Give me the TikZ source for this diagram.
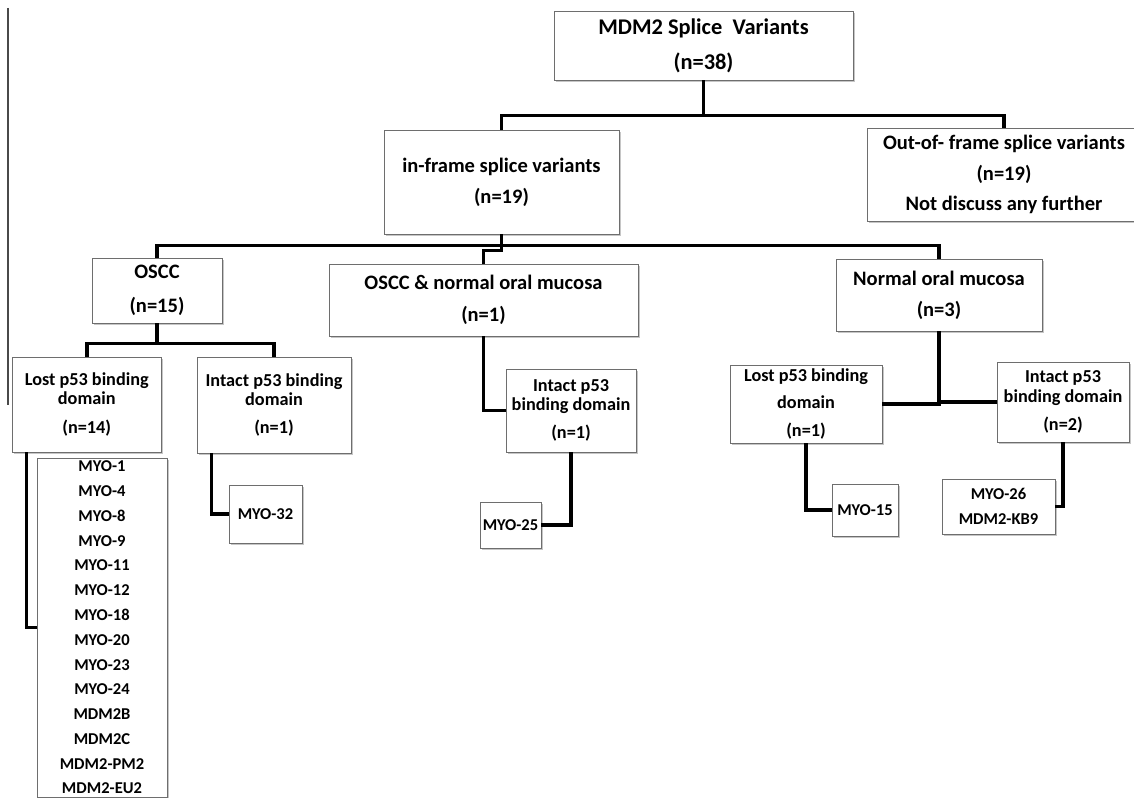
\documentclass[tikz,border=0pt]{standalone}
\usepackage{fontspec}
\setmainfont{Carlito}
\usepackage{tikz}
\usetikzlibrary{shadows}
\definecolor{boxline}{HTML}{6E6E6E}
\definecolor{edgeline}{HTML}{4A4A4A}

\begin{document}
\begin{tikzpicture}[x=1bp, y=-1bp,
    box/.style={draw=boxline, line width=0.9bp, fill=white, inner sep=0pt,
      align=center, font=\fontsize{20.6}{31}\selectfont\bfseries,
      drop shadow={shadow xshift=1.6bp, shadow yshift=-1.8bp,
        fill=black!50, opacity=.45}},
    rootbox/.style={box, font=\fontsize{22.5}{35}\selectfont\bfseries},
    pbox/.style={box, font=\fontsize{18.3}{29}\selectfont\bfseries},
    leaf/.style={box, font=\fontsize{16.6}{24.85}\selectfont\bfseries},
    link/.style={line width=3.6bp}]
  \useasboundingbox (0,0) rectangle (1134,798);
  \draw[edgeline, line width=1.3bp] (8,8) -- (8,405);
  % top level
  \node[rootbox, minimum width=299bp, minimum height=69bp] (root) at (703.5,45.5)
    {MDM2 Splice\ \ Variants\\(n=38)};
  \node[box, minimum width=235bp, minimum height=104bp] (inframe) at (501.5,182)
    {in-frame splice variants\\(n=19)};
  \node[box, minimum width=274bp, minimum height=93bp] (outframe) at (1004,174.5)
    {Out-of- frame splice variants\\(n=19)\\Not discuss any further};
  \draw[link] (root.south) -- ++(0,35) -| (inframe.north);
  \draw[link] (root.south) -- ++(0,35) -| (outframe.north);
  % tissue groups
  \node[box, minimum width=130bp, minimum height=65bp] (oscc) at (157,290.5)
    {OSCC\\[3bp](n=15)};
  \node[box, minimum width=309bp, minimum height=72bp] (both) at (483.5,300)
    {OSCC \& normal oral mucosa\\[1bp](n=1)};
  \node[box, minimum width=206bp, minimum height=72bp] (normal) at (939,295)
    {Normal oral mucosa\\(n=3)};
  \draw[link] (inframe.south) -- ++(0,11) -| (oscc.north);
  \draw[link] (inframe.south) -- ++(0,11) -| (normal.north);
  \draw[link] (inframe.south) -- ++(0,16) -| (both.north);
  % p53 binding domain
  \node[pbox, minimum width=148.5bp, minimum height=95bp] (lostA) at (86.75,404.5)
    {Lost p53 binding\\[-10bp]domain\\(n=14)};
  \node[pbox, minimum width=154bp, minimum height=96bp] (intactA) at (274,405)
    {Intact p53 binding\\[-10bp]domain\\(n=1)};
  \node[pbox, minimum width=130bp, minimum height=83bp] (intactB) at (571,410.5)
    {Intact p53\\[-10bp]binding domain\\(n=1)};
  \node[pbox, minimum width=152bp, minimum height=78bp] (lostC) at (806,404)
    {Lost p53 binding\\[-2bp]domain\\(n=1)};
  \node[pbox, minimum width=132bp, minimum height=80bp] (intactC) at (1063,402)
    {Intact p53\\[-9bp]binding domain\\(n=2)};
  \draw[link] (oscc.south) -- ++(0,20) -| (lostA.north);
  \draw[link] (oscc.south) -- ++(0,20) -| (intactA.north);
  \draw[link] (both.south) |- (intactB.west);
  \draw[link] (normal.south) |- (lostC.east);
  \draw[link] (normal.south) |- (intactC.west);
  % variants
  \node[leaf, minimum width=130bp, minimum height=339bp] (listA) at (102,627.5)
    {MYO-1\\MYO-4\\MYO-8\\MYO-9\\MYO-11\\MYO-12\\MYO-18\\MYO-20\\MYO-23\\MYO-24\\
     MDM2B\\MDM2C\\MDM2-PM2\\MDM2-EU2};
  \node[leaf, minimum width=73bp, minimum height=58bp] (myo32) at (265.5,514) {MYO-32};
  \node[leaf, minimum width=61bp, minimum height=46bp] (myo25) at (510.5,525) {MYO-25};
  \node[leaf, minimum width=66bp, minimum height=52bp] (myo15) at (865,510) {MYO-15};
  \node[leaf, minimum width=113bp, minimum height=55bp] (myoKB) at (998.5,506.5)
    {MYO-26\\MDM2-KB9};
  \draw[link] (lostA.south west) ++(14.5,0) |- (listA.west);
  \draw[link] (intactA.south west) ++(15,0) |- (myo32.west);
  \draw[link] (intactB.south) |- (myo25.east);
  \draw[link] (lostC.south) |- (myo15.west);
  \draw[link] (intactC.south) |- (myoKB.east);
\end{tikzpicture}
\end{document}
